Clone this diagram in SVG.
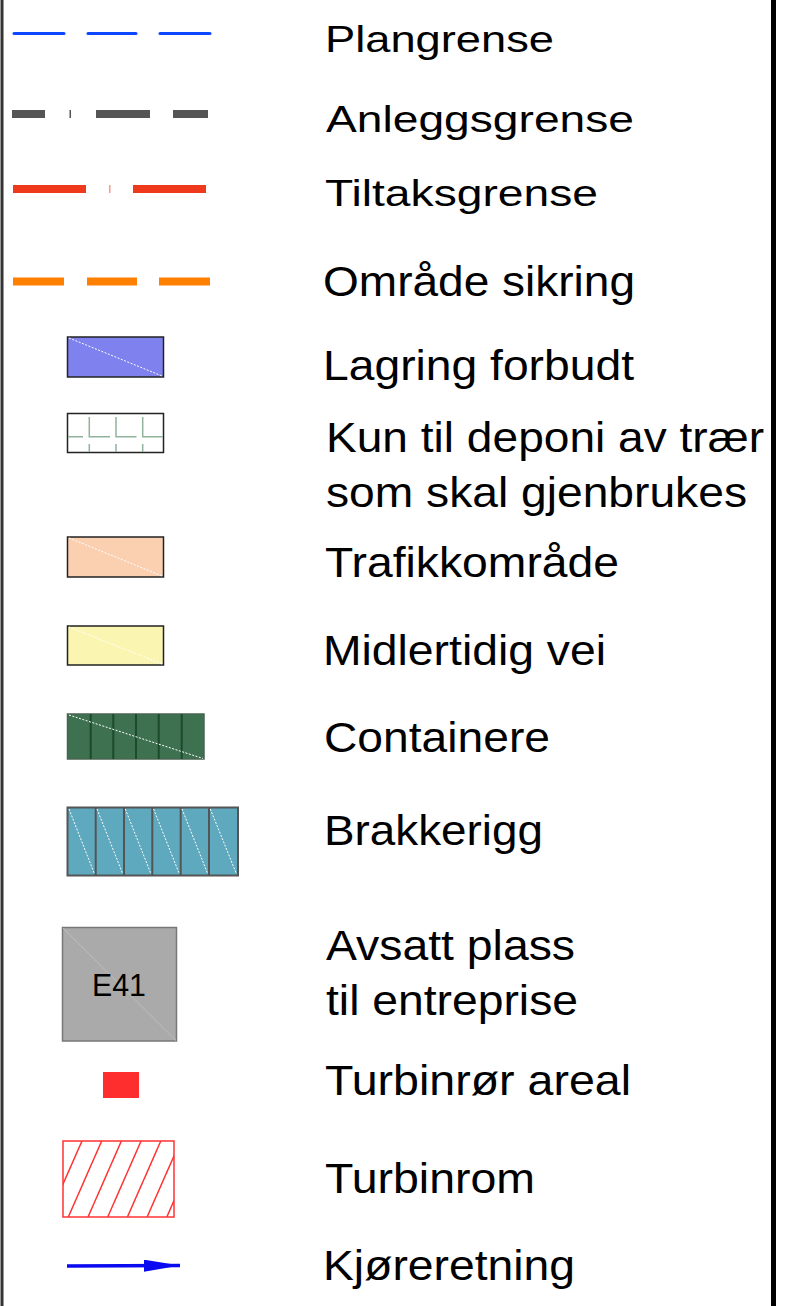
<svg xmlns="http://www.w3.org/2000/svg" width="795" height="1306" viewBox="0 0 795 1306">
<style>
text{font-family:"Liberation Sans",Arial,sans-serif;fill:#000}
.lbl{font-size:42px}
.top{font-size:37px}
.diag{stroke:#fff;stroke-width:1;stroke-dasharray:2 1.5;fill:none}
.box{stroke:#222;stroke-width:1.5}
</style>
<defs>
<clipPath id="hatchclip"><rect x="63" y="1141" width="111" height="76"/></clipPath>
<marker id="ah" viewBox="0 0 36 12" refX="36" refY="6" markerWidth="36" markerHeight="12" markerUnits="userSpaceOnUse" orient="auto"><path d="M0,0 L36,6 L0,12 z" fill="#0a0af0"/></marker>
</defs>
<rect width="795" height="1306" fill="#fff"/>
<line x1="2" y1="0" x2="2" y2="1306" stroke="#333" stroke-width="3"/>
<line x1="773.5" y1="0" x2="773.5" y2="1306" stroke="#000" stroke-width="5"/>

<g id="plangrense">
<g stroke="#0d47ff" stroke-width="3" stroke-linecap="round">
<line x1="14" y1="33.5" x2="64" y2="33.5"/><line x1="88" y1="33.5" x2="136" y2="33.5"/><line x1="160" y1="33.5" x2="210" y2="33.5"/>
</g>
<text class="top" x="325" y="52" textLength="229" lengthAdjust="spacingAndGlyphs">Plangrense</text>
</g>

<g id="anleggsgrense">
<g fill="#555">
<rect x="12" y="110" width="33" height="8"/><rect x="69.5" y="110" width="1.5" height="8"/><rect x="96" y="110" width="54" height="8"/><rect x="173" y="110" width="35" height="8"/>
</g>
<text class="top" x="326" y="132" textLength="308" lengthAdjust="spacingAndGlyphs">Anleggsgrense</text>
</g>

<g id="tiltaksgrense">
<g fill="#ef391c">
<rect x="13" y="185" width="73" height="8"/><rect x="133" y="185" width="73" height="8"/>
</g>
<rect x="109" y="185" width="1.5" height="8" fill="#f59a8a"/>
<text class="top" x="325" y="206" textLength="273" lengthAdjust="spacingAndGlyphs">Tiltaksgrense</text>
</g>

<g id="omrade-sikring">
<g fill="#ff7f00">
<rect x="13" y="277.5" width="51" height="8"/><rect x="87" y="277.5" width="50" height="8"/><rect x="159" y="277.5" width="51" height="8"/>
</g>
<text class="lbl" x="323" y="296" textLength="312" lengthAdjust="spacingAndGlyphs">Område sikring</text>
</g>

<g id="lagring-forbudt">
<rect class="box" x="67.5" y="337" width="96" height="40" fill="#7f82ee"/>
<line class="diag" x1="69" y1="338" x2="162" y2="376"/>
<text class="lbl" x="323" y="380" textLength="311" lengthAdjust="spacingAndGlyphs">Lagring forbudt</text>
</g>

<g id="kun-til-deponi">
<rect class="box" x="67.5" y="413.5" width="96" height="39" fill="#fff"/>
<g stroke="#8fb39b" stroke-width="1.5" fill="none">
<path d="M68,436.7 H83 M89.3,417 V436.7 H110 M116,417 V436.7 H136.5 M142.7,417 V436.7 H163"/>
<path d="M89.3,444 V452 M116,444 V452 M142.7,444 V452"/>
</g>
<text class="lbl" x="326" y="452" textLength="438" lengthAdjust="spacingAndGlyphs">Kun til deponi av trær</text>
<text class="lbl" x="326" y="507" textLength="421" lengthAdjust="spacingAndGlyphs">som skal gjenbrukes</text>
</g>

<g id="trafikkomrade">
<rect class="box" x="67.5" y="537" width="96" height="40" fill="#fbd0b1"/>
<line class="diag" x1="69" y1="538" x2="162" y2="576"/>
<text class="lbl" x="325" y="577" textLength="294" lengthAdjust="spacingAndGlyphs">Trafikkområde</text>
</g>

<g id="midlertidig-vei">
<rect class="box" x="67.5" y="626" width="96" height="39" fill="#faf6b1"/>
<line class="diag" x1="69" y1="627" x2="162" y2="664"/>
<text class="lbl" x="323" y="665" textLength="283" lengthAdjust="spacingAndGlyphs">Midlertidig vei</text>
</g>

<g id="containere">
<rect x="67.5" y="714" width="136.5" height="45" fill="#3d7150" stroke="#4a6452" stroke-width="1.5"/>
<g stroke="#1e4a2c" stroke-width="2">
<line x1="90.7" y1="714" x2="90.7" y2="759"/><line x1="113.3" y1="714" x2="113.3" y2="759"/><line x1="136" y1="714" x2="136" y2="759"/><line x1="158.7" y1="714" x2="158.7" y2="759"/><line x1="181.7" y1="714" x2="181.7" y2="759"/>
</g>
<line class="diag" x1="69" y1="715" x2="203" y2="758.5"/>
<text class="lbl" x="324" y="752" textLength="226" lengthAdjust="spacingAndGlyphs">Containere</text>
</g>

<g id="brakkerigg">
<rect x="67.5" y="807.5" width="170.5" height="68" fill="#5fa9be" stroke="#555" stroke-width="2"/>
<g stroke="#555" stroke-width="2">
<line x1="95.7" y1="807.5" x2="95.7" y2="875.5"/><line x1="124" y1="807.5" x2="124" y2="875.5"/><line x1="152.3" y1="807.5" x2="152.3" y2="875.5"/><line x1="180.7" y1="807.5" x2="180.7" y2="875.5"/><line x1="209" y1="807.5" x2="209" y2="875.5"/>
</g>
<g class="diag">
<line x1="69" y1="809" x2="94.5" y2="874"/><line x1="97" y1="809" x2="122.8" y2="874"/><line x1="125.3" y1="809" x2="151" y2="874"/><line x1="153.6" y1="809" x2="179.4" y2="874"/><line x1="182" y1="809" x2="207.8" y2="874"/><line x1="210.3" y1="809" x2="236.5" y2="874"/>
</g>
<text class="lbl" x="324" y="845" textLength="219" lengthAdjust="spacingAndGlyphs">Brakkerigg</text>
</g>

<g id="avsatt-plass">
<rect x="62.5" y="927.5" width="114" height="113.5" fill="#aaaaaa" stroke="#777" stroke-width="1.5"/>
<line x1="63" y1="928" x2="176" y2="1040.5" stroke="#bdbdbd" stroke-width="1"/>
<text x="119" y="996" font-size="31" text-anchor="middle" textLength="54" lengthAdjust="spacingAndGlyphs">E41</text>
<text class="lbl" x="326" y="960" textLength="249" lengthAdjust="spacingAndGlyphs">Avsatt plass</text>
<text class="lbl" x="326" y="1015" textLength="252" lengthAdjust="spacingAndGlyphs">til entreprise</text>
</g>

<g id="turbinror-areal">
<rect x="103" y="1072" width="36" height="26" fill="#fe2e2e"/>
<text class="lbl" x="325" y="1095" textLength="306" lengthAdjust="spacingAndGlyphs">Turbinrør areal</text>
</g>

<g id="turbinrom">
<g clip-path="url(#hatchclip)" stroke="#ff3333" stroke-width="1.5">
<line x1="48.6" y1="1217" x2="82" y2="1141"/>
<line x1="68.3" y1="1217" x2="101.7" y2="1141"/>
<line x1="88" y1="1217" x2="121.4" y2="1141"/>
<line x1="107.7" y1="1217" x2="141.1" y2="1141"/>
<line x1="127.4" y1="1217" x2="160.8" y2="1141"/>
<line x1="147.1" y1="1217" x2="180.5" y2="1141"/>
<line x1="166.8" y1="1217" x2="200.2" y2="1141"/>
</g>
<rect x="63" y="1141" width="111" height="76" fill="none" stroke="#ff3333" stroke-width="1.5"/>
<text class="lbl" x="325" y="1193" textLength="210" lengthAdjust="spacingAndGlyphs">Turbinrom</text>
</g>

<g id="connectors">
<line x1="67" y1="1266" x2="180" y2="1265.5" stroke="#0a0af0" stroke-width="3.5" marker-end="url(#ah)"/>
</g>
<g id="kjoreretning">
<text class="lbl" x="323" y="1280" textLength="252" lengthAdjust="spacingAndGlyphs">Kjøreretning</text>
</g>
</svg>
